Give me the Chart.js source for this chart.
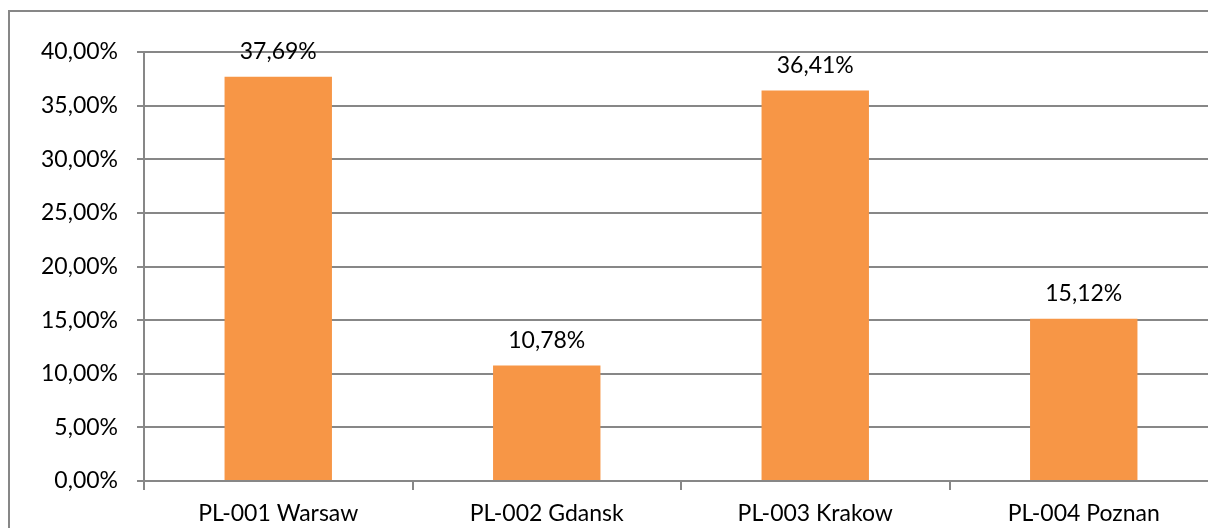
<!DOCTYPE html>
<html>
<head>
<meta charset="utf-8">
<script src="https://cdn.jsdelivr.net/npm/chart.js@4"></script>
<style>
html,body{margin:0;padding:0;overflow:hidden;background:#fff;}
#wrap{position:relative;width:1208px;height:528px;overflow:hidden;background:#fff;}
#frame{position:absolute;left:8px;top:10px;width:3000px;height:3000px;border-left:2px solid #878787;border-top:2px solid #878787;}
canvas{display:block;position:absolute;left:0;top:0;}
</style>
</head>
<body>
<div id="wrap"><div id="frame"></div><canvas id="c" width="1230" height="540" style="width:1230px;height:540px"></canvas></div>
<script>
const categories = ["PL-001 Warsaw", "PL-002 Gdansk", "PL-003 Krakow", "PL-004 Poznan"];
const values = [37.69, 10.78, 36.41, 15.12];
const yMin = 0, yMax = 40, yStep = 5;

const FONT = "Lato";
const fmt = v => v.toFixed(2).replace('.', ',') + '%';

const labelsPlugin = {
  id: 'barLabels',
  afterDatasetsDraw(chart) {
    const ctx = chart.ctx;
    const meta = chart.getDatasetMeta(0);
    ctx.save();
    ctx.font = '23px ' + FONT;
    ctx.fillStyle = '#000';
    ctx.textAlign = 'center';
    ctx.textBaseline = 'middle';
    meta.data.forEach((bar, i) => {
      ctx.fillText(fmt(values[i]), bar.x, bar.y - 25);
    });
    ctx.restore();
  }
};

new Chart(document.getElementById('c'), {
  type: 'bar',
  data: {
    labels: categories,
    datasets: [{
      data: values,
      backgroundColor: '#F79646',
      borderWidth: 0,
      categoryPercentage: 1,
      barPercentage: 0.4
    }]
  },
  plugins: [labelsPlugin],
  options: {
    responsive: false,
    animation: false,
    devicePixelRatio: 1,
    layout: { padding: { left: 0, top: 52, right: 12, bottom: 0 } },
    plugins: { legend: { display: false }, tooltip: { enabled: false } },
    scales: {
      x: {
        offset: true,
        afterFit(s) { s.height = 59; },
        border: { display: true, color: '#878787', width: 2 },
        grid: { offset: true, drawOnChartArea: false, drawTicks: true, tickLength: 9, color: '#878787', lineWidth: 2 },
        ticks: { color: '#000', font: { family: FONT, size: 23 }, padding: 10, maxRotation: 0 }
      },
      y: {
        min: yMin, max: yMax,
        afterFit(s) { s.width = 144; },
        border: { display: true, color: '#878787', width: 2 },
        grid: { color: '#878787', lineWidth: 2, tickLength: 7, drawTicks: true },
        ticks: { stepSize: yStep, color: '#000', font: { family: FONT, size: 23 }, padding: 19, callback: v => fmt(v) }
      }
    }
  }
});
</script>
</body>
</html>
